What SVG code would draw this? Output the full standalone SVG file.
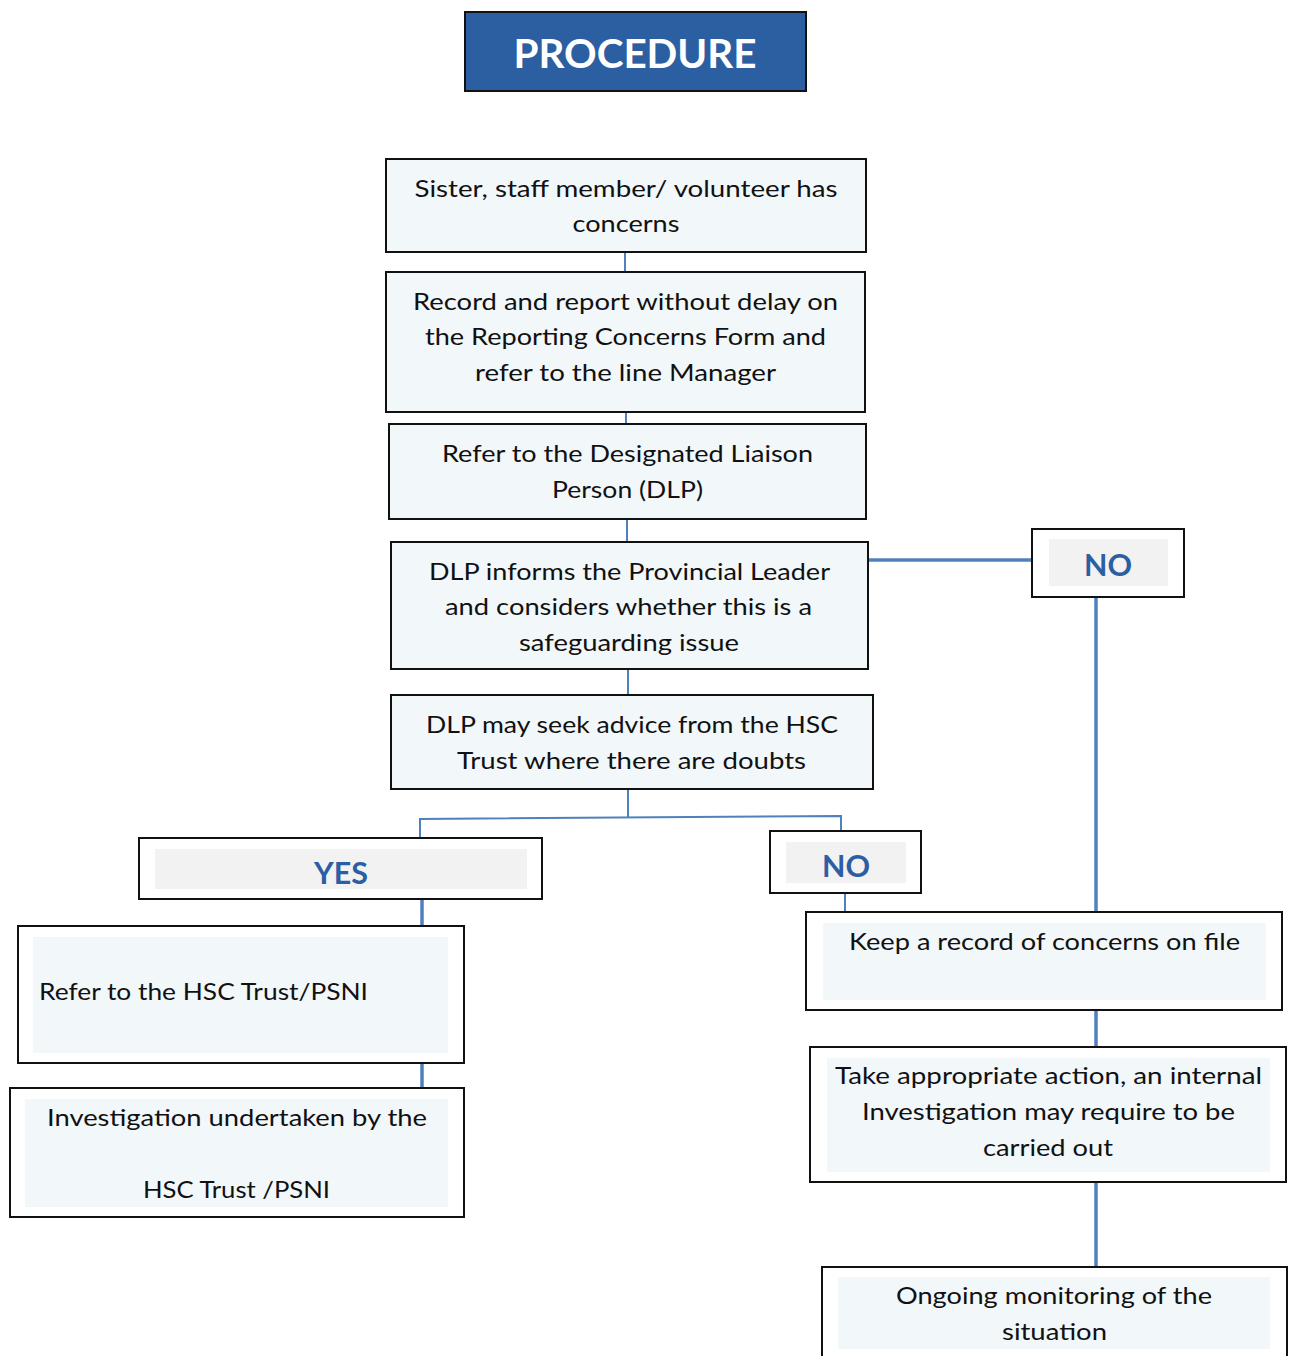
<svg xmlns="http://www.w3.org/2000/svg" width="1290" height="1356" viewBox="0 0 1290 1356">
<style>
.box{fill:#F2F7FA;stroke:#111;stroke-width:2}
.wbox{fill:#FFFFFF;stroke:#111;stroke-width:2}
.inner{fill:#F2F7FA}
.ginner{fill:#F2F2F2}
.t{font-family:Lato,"Open Sans","Liberation Sans",sans-serif;font-size:24px;fill:#111;text-anchor:middle}
.tl{font-family:Lato,"Open Sans","Liberation Sans",sans-serif;font-size:24px;fill:#111}
.lab{font-family:Lato,"Open Sans","Liberation Sans",sans-serif;font-size:31px;font-weight:bold;fill:#2B5EA3;text-anchor:middle}
.thin{stroke:#4F81BD;stroke-width:2;fill:none}
.thick{stroke:#4F81BD;stroke-width:3.5;fill:none}
</style>
<rect width="1290" height="1356" fill="#FFFFFF"/>
<g id="title">
<rect x="465" y="12" width="341" height="79" fill="#2B5FA1" stroke="#111" stroke-width="2"/>
<text x="635" y="68" font-family="Lato,'Open Sans','Liberation Sans',sans-serif" font-size="41" font-weight="bold" fill="#FFFFFF" text-anchor="middle" textLength="243" lengthAdjust="spacingAndGlyphs">PROCEDURE</text>
</g>
<g id="connectors">
<line class="thin" x1="625" y1="252" x2="625" y2="272"/>
<line class="thin" x1="626" y1="412" x2="626" y2="424"/>
<line class="thin" x1="627" y1="519" x2="627" y2="542"/>
<line class="thin" x1="628" y1="669" x2="628" y2="695"/>
<line class="thin" x1="628" y1="789" x2="628" y2="818"/>
<polyline class="thin" points="420,838 420,819 841,816 841,831"/>
<line class="thick" x1="422" y1="899" x2="422" y2="926"/>
<line class="thick" x1="422" y1="1063" x2="422" y2="1088"/>
<line class="thin" x1="845" y1="893" x2="845" y2="912"/>
<line class="thick" x1="868" y1="560" x2="1032" y2="560"/>
<line class="thick" x1="1096" y1="597" x2="1096" y2="912"/>
<line class="thick" x1="1096" y1="1010" x2="1096" y2="1047"/>
<line class="thick" x1="1096" y1="1182" x2="1096" y2="1267"/>
</g>
<g id="n1">
<rect class="box" x="386" y="159" width="480" height="93"/>
<text class="t" x="626" y="197" textLength="423" lengthAdjust="spacingAndGlyphs">Sister, staff member/ volunteer has</text>
<text class="t" x="626" y="232" textLength="107" lengthAdjust="spacingAndGlyphs">concerns</text>
</g>
<g id="n2">
<rect class="box" x="386" y="272" width="479" height="140"/>
<text class="t" x="625.5" y="310" textLength="425" lengthAdjust="spacingAndGlyphs">Record and report without delay on</text>
<text class="t" x="625.5" y="345" textLength="401" lengthAdjust="spacingAndGlyphs">the Reporting Concerns Form and</text>
<text class="t" x="625.5" y="381" textLength="301" lengthAdjust="spacingAndGlyphs">refer to the line Manager</text>
</g>
<g id="n3">
<rect class="box" x="389" y="424" width="477" height="95"/>
<text class="t" x="627.5" y="462" textLength="371" lengthAdjust="spacingAndGlyphs">Refer to the Designated Liaison</text>
<text class="t" x="627.5" y="498" textLength="151" lengthAdjust="spacingAndGlyphs">Person (DLP)</text>
</g>
<g id="n4">
<rect class="box" x="391" y="542" width="477" height="127"/>
<text class="t" x="629.5" y="580" textLength="401" lengthAdjust="spacingAndGlyphs">DLP informs the Provincial Leader</text>
<text class="t" x="628.5" y="615" textLength="367" lengthAdjust="spacingAndGlyphs">and considers whether this is a</text>
<text class="t" x="629" y="651" textLength="220" lengthAdjust="spacingAndGlyphs">safeguarding issue</text>
</g>
<g id="n5">
<rect class="box" x="391" y="695" width="482" height="94"/>
<text class="t" x="632" y="733" textLength="412" lengthAdjust="spacingAndGlyphs">DLP may seek advice from the HSC</text>
<text class="t" x="631.5" y="769" textLength="349" lengthAdjust="spacingAndGlyphs">Trust where there are doubts</text>
</g>
<g id="yes">
<rect class="wbox" x="139" y="838" width="403" height="61"/>
<rect class="ginner" x="155" y="849" width="372" height="40"/>
<text class="lab" x="341" y="884" textLength="54" lengthAdjust="spacingAndGlyphs">YES</text>
</g>
<g id="no1">
<rect class="wbox" x="770" y="831" width="151" height="62"/>
<rect class="ginner" x="786" y="842" width="120" height="41"/>
<text class="lab" x="846" y="877" textLength="48" lengthAdjust="spacingAndGlyphs">NO</text>
</g>
<g id="no2">
<rect class="wbox" x="1032" y="529" width="152" height="68"/>
<rect class="ginner" x="1049" y="539" width="119" height="47"/>
<text class="lab" x="1108" y="576" textLength="48" lengthAdjust="spacingAndGlyphs">NO</text>
</g>
<g id="refer">
<rect class="wbox" x="18" y="926" width="446" height="137"/>
<rect class="inner" x="33" y="937" width="415" height="116"/>
<text class="tl" x="39" y="1000" textLength="329" lengthAdjust="spacingAndGlyphs">Refer to the HSC Trust/PSNI</text>
</g>
<g id="invest">
<rect class="wbox" x="10" y="1088" width="454" height="129"/>
<rect class="inner" x="25" y="1099" width="423" height="108"/>
<text class="t" x="237" y="1126" textLength="380" lengthAdjust="spacingAndGlyphs">Investigation undertaken by the</text>
<text class="t" x="236.5" y="1198" textLength="187" lengthAdjust="spacingAndGlyphs">HSC Trust /PSNI</text>
</g>
<g id="keep">
<rect class="wbox" x="806" y="912" width="476" height="98"/>
<rect class="inner" x="823" y="923" width="443" height="77"/>
<text class="t" x="1044.5" y="950" textLength="391" lengthAdjust="spacingAndGlyphs">Keep a record of concerns on file</text>
</g>
<g id="take">
<rect class="wbox" x="810" y="1047" width="476" height="135"/>
<rect class="inner" x="827" y="1058" width="443" height="114"/>
<text class="t" x="1048.5" y="1084" textLength="427" lengthAdjust="spacingAndGlyphs">Take appropriate action, an internal</text>
<text class="t" x="1048.5" y="1120" textLength="373" lengthAdjust="spacingAndGlyphs">Investigation may require to be</text>
<text class="t" x="1048" y="1156" textLength="130" lengthAdjust="spacingAndGlyphs">carried out</text>
</g>
<g id="ongoing">
<rect class="wbox" x="822" y="1267" width="465" height="100"/>
<rect class="inner" x="838" y="1277" width="432" height="72"/>
<text class="t" x="1054" y="1304" textLength="316" lengthAdjust="spacingAndGlyphs">Ongoing monitoring of the</text>
<text class="t" x="1054.5" y="1340" textLength="105" lengthAdjust="spacingAndGlyphs">situation</text>
</g>
</svg>
